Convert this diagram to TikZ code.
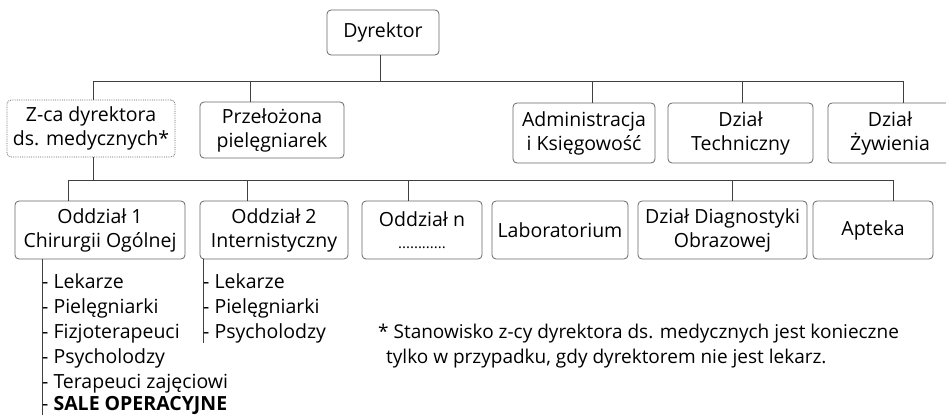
\documentclass[tikz,border=0pt]{standalone}
\usepackage{fontspec}
\setmainfont{Open Sans}
\begin{document}
\begin{tikzpicture}[x=1pt,y=-1pt,
  box/.style={draw=black!60, line width=0.8pt, rounded corners=4pt, align=center,
    inner sep=0pt, font=\fontsize{19.5}{24}\selectfont},
  dotbox/.style={box, densely dotted},
  link/.style={draw=black!75, line width=0.8pt},
  item/.style={anchor=base west, inner sep=0pt, font=\fontsize{19.5}{24}\selectfont},
  note/.style={anchor=base west, inner sep=0pt, font=\fontsize{19}{22}\selectfont}]
\useasboundingbox (0,0) rectangle (946,415);
\clip (0,0) rectangle (946,415);

% top level
\node[box, minimum width=112, minimum height=45] (dyr) at (383,32.5) {Dyrektor};

% second level
\node[dotbox, minimum width=168, minimum height=57] (zca) at (91,128.5) {Z-ca dyrektora\\ds. medycznych*};
\node[box, minimum width=144, minimum height=56] (prz) at (272,130) {Przełożona\\pielęgniarek};
\node[box, minimum width=142, minimum height=60] (adm) at (584,133) {Administracja\\i Księgowość};
\node[box, minimum width=145, minimum height=60] (tech) at (740.5,133) {Dział\\Techniczny};
\node[box, minimum width=124, minimum height=60] (zyw) at (890,133) {Dział\\Żywienia};

% third level
\node[box, minimum width=170, minimum height=58] (od1) at (100,230) {Oddział 1\\Chirurgii Ogólnej};
\node[box, minimum width=148, minimum height=58] (od2) at (274,230) {Oddział 2\\Internistyczny};
\node[box, minimum width=120, minimum height=58] (odn) at (422,230) {Oddział n\\[-2pt]{\fontsize{15}{16}\selectfont............}};
\node[box, minimum width=136, minimum height=58] (lab) at (560,230) {Laboratorium};
\node[box, minimum width=169, minimum height=58] (diag) at (722.5,230) {Dział Diagnostyki\\Obrazowej};
\node[box, minimum width=120, minimum height=58] (apt) at (873,230) {Apteka};

% connectors, upper bus
\coordinate (b1) at (93,81);
\coordinate (b2) at (250,81);
\coordinate (b0) at (380,81);
\coordinate (b3) at (592,81);
\coordinate (b4) at (742,81);
\coordinate (b5) at (903,81);
\path[link] (b1) -- (b5);
\path[link] (b0) -- (b0 |- dyr.south);
\path[link] (b1) -- (b1 |- zca.north);
\path[link] (b2) -- (b2 |- prz.north);
\path[link] (b3) -- (b3 |- adm.north);
\path[link] (b4) -- (b4 |- tech.north);
\path[link] (b5) -- (b5 |- zyw.north);

% connectors, lower bus
\coordinate (c0) at (93,180);
\coordinate (c1) at (68,180);
\coordinate (c2) at (247,180);
\coordinate (c3) at (408,180);
\coordinate (c4) at (732,180);
\coordinate (c5) at (893,180);
\path[link] (c1) -- (c5);
\path[link] (c0) -- (c0 |- zca.south);
\path[link] (c1) -- (c1 |- od1.north);
\path[link] (c2) -- (c2 |- od2.north);
\path[link] (c3) -- (c3 |- odn.north);
\path[link] (c4) -- (c4 |- diag.north);
\path[link] (c5) -- (c5 |- apt.north);

% staff lists
\coordinate (l1) at (42,259);
\coordinate (l1e) at (42,416);
\coordinate (l2) at (203,259);
\coordinate (l2e) at (203,343);
\path[link] (l1) -- (l1e);
\path[link] (l2) -- (l2e);

\node[item] (a1) at (42,288) {- Lekarze};
\node[item] (a2) at (42,313) {- Pielęgniarki};
\node[item] (a3) at (42,338) {- Fizjoterapeuci};
\node[item] (a4) at (42,363) {- Psycholodzy};
\node[item] (a5) at (42,388) {- Terapeuci zajęciowi};
\node[item] (a6) at (42,410.5) {- \textbf{SALE OPERACYJNE}};

\node[item] (d1) at (203,288) {- Lekarze};
\node[item] (d2) at (203,313) {- Pielęgniarki};
\node[item] (d3) at (203,338) {- Psycholodzy};

% footnote
\node[note] (n1) at (378,338) {* Stanowisko z-cy dyrektora ds. medycznych jest konieczne};
\node[note] (n2) at (386,363) {tylko w przypadku, gdy dyrektorem nie jest lekarz.};
\end{tikzpicture}
\end{document}
